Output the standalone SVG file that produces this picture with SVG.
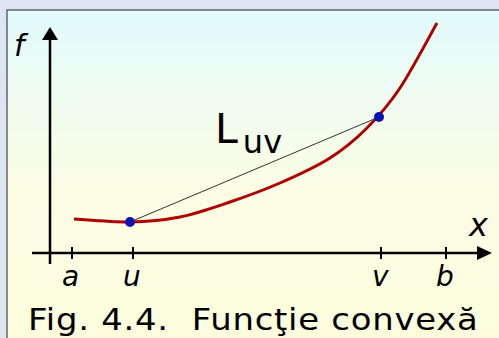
<svg xmlns="http://www.w3.org/2000/svg" width="499" height="338" viewBox="0 0 499 338">
<defs>
<linearGradient id="bg" x1="0" y1="10" x2="0" y2="338" gradientUnits="userSpaceOnUse">
<stop offset="0" stop-color="#e2fbfd"/>
<stop offset="0.55" stop-color="#fcfde4"/>
<stop offset="1" stop-color="#fdfdde"/>
</linearGradient>
<style>
.axis{stroke:#000;stroke-width:2.5;fill:none}
.tick{stroke:#000;stroke-width:2}
.lab{font-family:"DejaVu Sans",sans-serif;font-style:italic;fill:#000}
.dot{fill:#0a14b4}
</style>
</defs>
<rect x="0" y="0" width="499" height="338" fill="#dce6f2"/>
<rect x="7" y="10" width="500" height="340" fill="url(#bg)" stroke="#666" stroke-width="1.5"/>
<g id="connectors">
<line class="axis" x1="50" y1="264" x2="50" y2="38"/>
<polygon points="50,27 42,40 58,40" fill="#000"/>
<line class="axis" x1="32" y1="253" x2="480" y2="253"/>
<polygon points="492,253 477,246 477,260" fill="#000"/>
<line class="tick" x1="72" y1="247" x2="72" y2="259"/>
<line class="tick" x1="133" y1="247" x2="133" y2="259"/>
<line class="tick" x1="381" y1="247" x2="381" y2="259"/>
<line class="tick" x1="446" y1="247" x2="446" y2="259"/>
<path id="curve" d="M74,219 C83.3,219.5 112.3,222.3 130,222 C147.7,221.7 163.3,220.3 180,217 C196.7,213.7 213.3,207.7 230,202 C246.7,196.3 263.3,190.3 280,183 C296.7,175.7 315.5,167.2 330,158 C344.5,148.8 355.3,139.7 367,128 C378.7,116.3 388.3,105.5 400,88 C411.7,70.5 430.8,33.8 437,23" fill="none" stroke="#b00000" stroke-width="3"/>
<line x1="130" y1="222" x2="379" y2="117" stroke="#333" stroke-width="1"/>
</g>
<g id="point-u"><circle class="dot" cx="130" cy="222" r="5"/></g>
<g id="point-v"><circle class="dot" cx="379" cy="117" r="5"/></g>
<g id="labels">
<text class="lab" x="14" y="56" font-size="30">f</text>
<text class="lab" x="469" y="236" font-size="32">x</text>
<text class="lab" x="62" y="286" font-size="28">a</text>
<text class="lab" x="123" y="286" font-size="28">u</text>
<text class="lab" x="372" y="286" font-size="28">v</text>
<text class="lab" x="436" y="286" font-size="28">b</text>
<text x="215" y="143" font-family="DejaVu Sans,sans-serif" font-size="41" fill="#000">L<tspan font-size="32" dx="5" dy="10">uv</tspan></text>
<text transform="translate(28,330) scale(1.13,1)" x="0" y="0" font-family="DejaVu Sans,sans-serif" font-size="30" fill="#000" xml:space="preserve" textLength="398" lengthAdjust="spacing">Fig. 4.4.  Funcţie convexă</text>
</g>
</svg>
